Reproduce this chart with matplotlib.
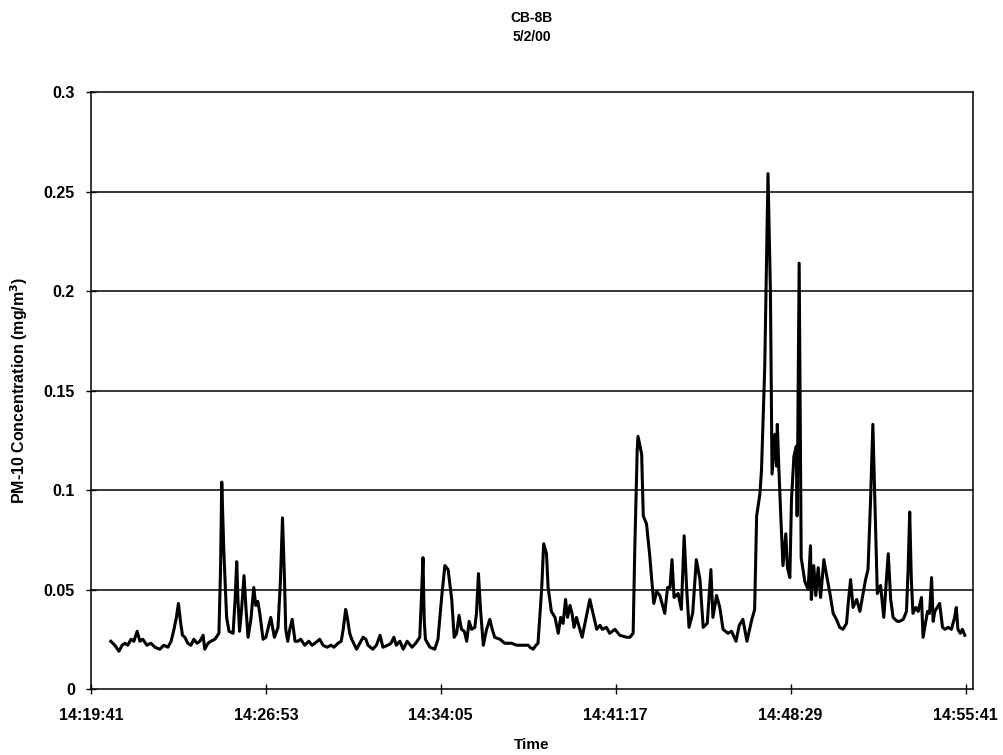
import matplotlib.pyplot as plt
import matplotlib as mpl

# elapsed seconds since 14:19:41, and PM-10 concentration (mg/m3)
t_sec = [
    49, 59, 69, 77, 84, 91, 99, 106, 114, 121, 128, 138, 148, 158, 170, 180, 190, 198,
    205, 211, 216, 221, 226, 232, 239, 247, 254, 262, 269, 277, 281, 289, 296, 306, 316,
    320, 323, 328, 335, 341, 351, 356, 360, 363, 367, 372, 378, 383, 388, 395, 402, 407,
    412, 417, 425, 432, 444, 453, 462, 468, 473, 478, 481, 486, 491, 497, 504, 511, 518,
    528, 538, 546, 553, 565, 573, 583, 593, 600, 610, 618, 623, 629, 633, 639, 644, 656,
    664, 672, 679, 684, 696, 705, 714, 721, 733, 741, 748, 754, 763, 771, 781, 793, 802,
    812, 816, 820, 823, 826, 837, 849, 857, 866, 874, 882, 891, 897, 903, 909, 915, 922,
    928, 934, 940, 948, 952, 957, 962, 969, 977, 985, 991, 997, 1010, 1022, 1039, 1051,
    1067, 1080, 1084, 1092, 1099, 1104, 1113, 1118, 1125, 1129, 1137, 1146, 1154, 1160,
    1166, 1172, 1177, 1183, 1188, 1193, 1199, 1206, 1213, 1220, 1225, 1232, 1240, 1249,
    1257, 1263, 1273, 1281, 1294, 1306, 1323, 1331, 1339, 1343, 1349, 1351, 1360, 1364,
    1372, 1380, 1384, 1390, 1397, 1405, 1417, 1424, 1430, 1435, 1440, 1450, 1458, 1465,
    1471, 1477, 1486, 1495, 1504, 1512, 1522, 1531, 1536, 1545, 1553, 1561, 1573, 1582,
    1593, 1601, 1610, 1620, 1631, 1639, 1644, 1652, 1656, 1664, 1672, 1678, 1682, 1689,
    1693, 1695, 1699, 1704, 1709, 1716, 1720, 1726, 1730, 1736, 1742, 1744, 1749, 1754,
    1763, 1771, 1777, 1779, 1785, 1790, 1796, 1802, 1810, 1816, 1825, 1833, 1841, 1849,
    1857, 1866, 1871, 1876, 1882, 1891, 1899, 1907, 1913, 1919, 1925, 1931, 1936, 1942,
    1950, 1958, 1969, 1975, 1981, 1991, 1997, 2006, 2014, 2018, 2022, 2026, 2030, 2037,
    2043, 2051, 2055, 2061, 2066, 2071, 2076, 2080, 2084, 2090, 2096, 2103, 2109, 2117,
    2125, 2133, 2137, 2141, 2147, 2152, 2158,
]
pm10 = [
    0.024, 0.022, 0.019, 0.022, 0.023, 0.022, 0.025, 0.024, 0.029, 0.024, 0.025, 0.022,
    0.023, 0.021, 0.020, 0.022, 0.021, 0.024, 0.030, 0.036, 0.043, 0.034, 0.027, 0.026,
    0.023, 0.022, 0.025, 0.023, 0.024, 0.027, 0.020, 0.023, 0.024, 0.025, 0.028,
    0.060, 0.104, 0.070, 0.036, 0.029, 0.028, 0.045, 0.064, 0.045, 0.029, 0.040, 0.057,
    0.040, 0.026, 0.035, 0.051, 0.042, 0.044, 0.038, 0.025, 0.026, 0.036, 0.026, 0.031,
    0.055, 0.086, 0.055, 0.030, 0.024, 0.030, 0.035, 0.024, 0.024, 0.025, 0.022, 0.024,
    0.022, 0.023, 0.025, 0.022, 0.021, 0.022, 0.021, 0.023, 0.024, 0.030, 0.040, 0.036,
    0.028, 0.025, 0.020, 0.023, 0.026, 0.025, 0.022, 0.020, 0.022, 0.027, 0.021, 0.022,
    0.023, 0.026, 0.022, 0.024, 0.020, 0.024, 0.021, 0.023, 0.026, 0.045, 0.066, 0.035,
    0.025, 0.021, 0.020, 0.025, 0.046, 0.062, 0.060, 0.045, 0.026, 0.028, 0.037, 0.030,
    0.029, 0.024, 0.034, 0.030, 0.031, 0.038, 0.058, 0.040, 0.022, 0.030, 0.035, 0.030,
    0.026, 0.025, 0.023, 0.023, 0.022, 0.022, 0.022, 0.021, 0.020, 0.022, 0.023, 0.050,
    0.073, 0.068, 0.051, 0.039, 0.036, 0.028, 0.036, 0.033, 0.045, 0.036, 0.042, 0.038,
    0.031, 0.036, 0.031, 0.026, 0.033, 0.038, 0.045, 0.038, 0.030, 0.032, 0.030, 0.031,
    0.028, 0.030, 0.027, 0.026, 0.026, 0.028, 0.070, 0.120, 0.127, 0.118, 0.087, 0.083,
    0.067, 0.057, 0.043, 0.049, 0.047, 0.038, 0.051, 0.051, 0.065, 0.046, 0.048, 0.040,
    0.077, 0.051, 0.031, 0.038, 0.065, 0.055, 0.031, 0.033, 0.060, 0.036, 0.047, 0.041,
    0.030, 0.028, 0.029, 0.024, 0.032, 0.035, 0.024, 0.034, 0.040, 0.087, 0.098, 0.110,
    0.162, 0.259, 0.200, 0.108, 0.128, 0.112, 0.133, 0.110, 0.085, 0.062, 0.078, 0.061,
    0.056, 0.095, 0.117, 0.122, 0.087, 0.214, 0.066, 0.054, 0.050, 0.072, 0.045, 0.062,
    0.047, 0.061, 0.046, 0.065, 0.058, 0.048, 0.038, 0.035, 0.031, 0.030, 0.033, 0.045,
    0.055, 0.041, 0.045, 0.039, 0.048, 0.055, 0.060, 0.093, 0.133, 0.094, 0.048, 0.052,
    0.036, 0.068, 0.045, 0.036, 0.034, 0.034, 0.035, 0.039, 0.060, 0.089, 0.055, 0.038,
    0.041, 0.039, 0.046, 0.026, 0.033, 0.039, 0.038, 0.056, 0.034, 0.039, 0.041, 0.043,
    0.031, 0.030, 0.031, 0.030, 0.036, 0.041, 0.030, 0.028, 0.030, 0.027,
]

tick_sec = [0, 432, 864, 1296, 1728, 2160]
tick_labels = ["14:19:41", "14:26:53", "14:34:05", "14:41:17", "14:48:29", "14:55:41"]
y_ticks = [0, 0.05, 0.1, 0.15, 0.2, 0.25, 0.3]
y_labels = ["0", "0.05", "0.1", "0.15", "0.2", "0.25", "0.3"]

mpl.rcParams.update({
    "font.family": ["Liberation Sans", "DejaVu Sans"],
    "font.weight": "bold",
})

fig = plt.figure(figsize=(10.04, 7.55), dpi=100)
ax = fig.add_axes([0.0906, 0.0874, 0.8784, 0.7907])

for y in y_ticks[1:-1]:
    ax.axhline(y, color="black", lw=1.1, zorder=1)

ax.plot(t_sec, pm10, color="black", lw=2.2, zorder=3)

ax.set_xlim(0, 2178)
ax.set_ylim(0, 0.3)
ax.set_xticks(tick_sec)
ax.set_xticklabels(tick_labels, fontweight="bold")
ax.set_yticks(y_ticks)
ax.set_yticklabels(y_labels, fontweight="bold")
ax.tick_params(axis="both", direction="inout", length=7, width=1, labelsize=11.5)
ax.tick_params(axis="x", pad=10)
ax.tick_params(axis="y", pad=8)
for sp in ax.spines.values():
    sp.set_linewidth(1.1)
    sp.set_color("black")

ax.set_xlabel("Time", fontweight="bold", fontsize=11, labelpad=11)
ax.set_ylabel("PM-10 Concentration (mg/m$^{\\mathbf{3}}$)", fontweight="bold",
              fontsize=11.5, labelpad=10)
ax.set_title("CB-8B\n5/2/00", fontweight="bold", fontsize=10, pad=37, linespacing=1.45)

fig.savefig("out.png", dpi=100, facecolor="white")
